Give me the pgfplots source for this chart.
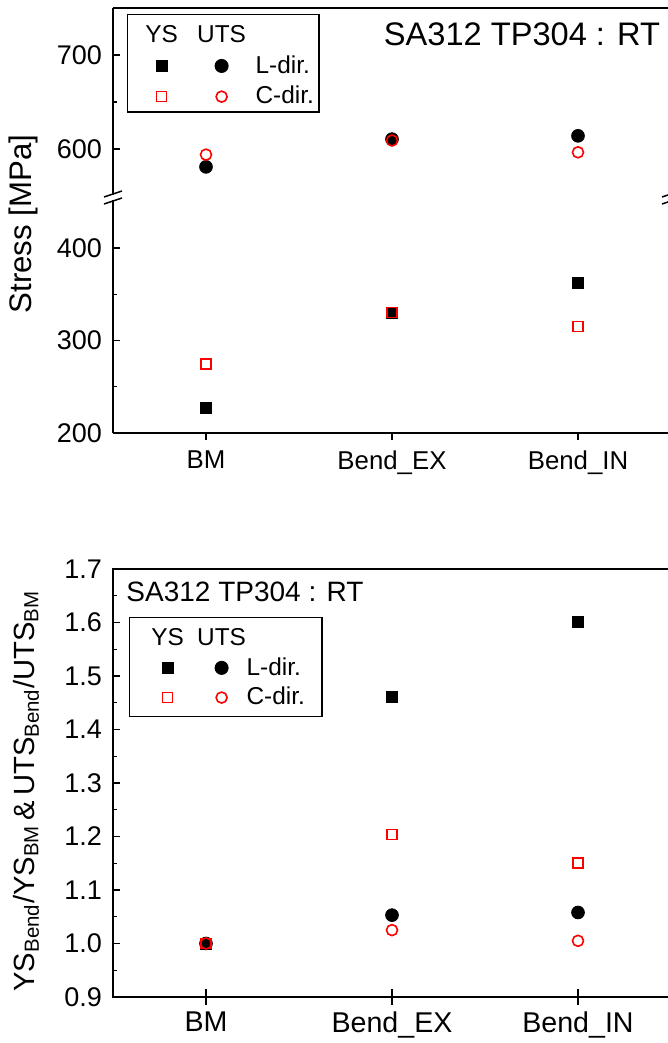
\documentclass[border=0pt]{standalone}
\usepackage{fontspec}
\setmainfont{Liberation Sans}
\usepackage{pgfplots}
\pgfplotsset{compat=1.18}

\pgfplotsset{
  limg/.style n args={4}{legend image code/.code={%
     \draw[##1] plot coordinates {(0pt,0pt)};
     \path[draw=none,fill=none] (#1,#3) rectangle (#2,#4);}},
  himg/.style n args={5}{legend image code/.code={%
     \node[overlay,inner sep=0pt,anchor=center,draw=none,fill=none,text=black,font=\fontsize{12.2pt}{14pt}\selectfont] at (0pt,0pt) {#5};
     \path[draw=none,fill=none] (#1,#3) rectangle (#2,#4);}},
  ysl/.style={only marks, mark=square*, mark size=2.75pt, black},
  ysc/.style={only marks, mark=square, mark size=2.5pt, red, line width=0.8pt},
  utsl/.style={only marks, mark=*, mark size=3.2pt, black},
  utsc/.style={only marks, mark=o, mark size=2.75pt, red, line width=0.8pt},
  base/.style={scale only axis, width=279pt, xmin=0.5, xmax=3.5,
     axis line style={line width=0.75pt},
     tick style={line width=0.6pt, black},
     major tick length=3.5pt, minor tick length=2pt,
     tick align=inside,
     /pgf/number format/assume math mode=true,
     yticklabel style={font=\fontsize{13.5pt}{16pt}\selectfont},
     yticklabel shift=2pt},
}

\begin{document}
\begin{tikzpicture}
% ---------- upper segment of top panel ----------
\begin{axis}[base, name=up, at={(0,0)}, anchor=north west, height=94pt,
  ymin=550, ymax=750, ytick={600,700}, minor ytick={650},
  hide x axis, axis y line*=left, clip=false,
  legend columns=2, legend cell align=left,
  legend style={at={(0.0251,0.968)}, anchor=north west, draw=black, line width=0.6pt,
     font=\fontsize{12.2pt}{14pt}\selectfont, inner xsep=0.5pt, inner ysep=0.5pt,
     row sep=1pt, nodes={inner sep=2pt, text depth=0.15em},
     /tikz/column 2/.style={column sep=14pt},
     /tikz/column 3/.style={column sep=9pt}}]
\addlegendimage{himg={-16.5pt}{6pt}{-7pt}{10pt}{YS}}\addlegendentry{\mbox{}}
\addlegendimage{himg={-6pt}{6pt}{-7pt}{10pt}{UTS}}\addlegendentry{\mbox{}}
\addlegendimage{ysl, limg={-16.5pt}{6pt}{-6pt}{6pt}}\addlegendentry{\mbox{}}
\addlegendimage{utsl, limg={-6pt}{6pt}{-6pt}{6pt}}\addlegendentry{L-dir.}
\addlegendimage{ysc, limg={-16.5pt}{6pt}{-6pt}{6pt}}\addlegendentry{\mbox{}}
\addlegendimage{utsc, limg={-6pt}{6pt}{-6pt}{6pt}}\addlegendentry{C-dir.}
\addplot[utsl, forget plot] coordinates {(1,581) (2,610.5) (3,614)};
\addplot[utsc, forget plot] coordinates {(1,594) (2,609) (3,596.5)};
\draw[line width=0.75pt] (rel axis cs:0,1) -- (rel axis cs:1,1) -- (rel axis cs:1,0);
\end{axis}
% ---------- lower segment of top panel ----------
\begin{axis}[base, name=low, at={(0,-94.5pt)}, anchor=north west, height=118pt,
  ymin=200, ymax=455, ytick={200,300,400}, minor ytick={250,350},
  axis x line*=bottom, axis y line*=left, xtick=\empty, clip=false,
  extra x ticks={1,2,3}, extra x tick labels={BM,Bend\_EX,Bend\_IN},
  extra x tick style={tick align=outside,
     xticklabel style={font=\fontsize{12.9pt}{15pt}\selectfont, yshift=-2pt}}]
\addplot[ysl] coordinates {(1,227) (2,330) (3,362)};
\addplot[ysc] coordinates {(1,274.5) (2,330) (3,315)};
\draw[line width=0.75pt] (rel axis cs:1,0) -- (rel axis cs:1,1);
\end{axis}
% ---------- bottom panel ----------
\begin{axis}[base, name=bot, at={(0,-280.5pt)}, anchor=north west, height=214pt,
  tick pos=left,
  ymin=0.9, ymax=1.7, ytick={0.9,1.0,1.1,1.2,1.3,1.4,1.5,1.6,1.7},
  minor y tick num=1,
  yticklabel style={/pgf/number format/.cd, fixed, fixed zerofill, precision=1},
  xtick=\empty,
  extra x ticks={1,2,3}, extra x tick labels={BM,Bend\_EX,Bend\_IN},
  extra x tick style={tick align=center, major tick length=8pt,
     xticklabel style={font=\fontsize{14.3pt}{17pt}\selectfont}},
  legend columns=2, legend cell align=left,
  legend style={at={(0.0287,0.888)}, anchor=north west, draw=black, line width=0.6pt,
     font=\fontsize{12.2pt}{14pt}\selectfont, inner xsep=0.5pt, inner ysep=0.5pt,
     row sep=0.5pt, nodes={inner sep=2pt, text depth=0.15em},
     /tikz/column 2/.style={column sep=11pt},
     /tikz/column 3/.style={column sep=4.5pt}}]
\addlegendimage{himg={-18.5pt}{6pt}{-7pt}{10pt}{YS}}\addlegendentry{\mbox{}}
\addlegendimage{himg={-6pt}{6pt}{-7pt}{10pt}{UTS}}\addlegendentry{\mbox{}}
\addlegendimage{ysl, limg={-18.5pt}{6pt}{-6pt}{6pt}}\addlegendentry{\mbox{}}
\addlegendimage{utsl, limg={-6pt}{6pt}{-6pt}{6pt}}\addlegendentry{L-dir.\hspace*{6pt}}
\addlegendimage{ysc, limg={-18.5pt}{6pt}{-9pt}{6pt}}\addlegendentry{\mbox{}}
\addlegendimage{utsc, limg={-6pt}{6pt}{-9pt}{6pt}}\addlegendentry{C-dir.\hspace*{6pt}}
\addplot[ysl, forget plot] coordinates {(1,1.0) (2,1.461) (3,1.601)};
\addplot[utsl, forget plot] coordinates {(1,1.0) (2,1.053) (3,1.058)};
\addplot[ysc, forget plot] coordinates {(1,1.0) (2,1.204) (3,1.150)};
\addplot[utsc, forget plot] coordinates {(1,1.0) (2,1.025) (3,1.005)};
\end{axis}
% ---------- axis breaks ----------
\foreach \xx in {0pt,279pt}{
  \fill[white] ([xshift=-1pt]\xx,-93.6pt) rectangle ([xshift=1pt]\xx,-96pt);
  \draw[line width=0.75pt] ([xshift=-4.5pt]\xx,-94.5pt) -- ([xshift=4.5pt]\xx,-91.5pt);
  \draw[line width=0.75pt] ([xshift=-4.5pt]\xx,-98pt) -- ([xshift=4.5pt]\xx,-95pt);
}
% ---------- titles and labels ----------
\node[font=\fontsize{16.3pt}{19pt}\selectfont] at (204.5pt,-13pt) {SA312 TP304 : RT};
\node[font=\fontsize{14pt}{17pt}\selectfont] at (66pt,-292pt) {SA312 TP304 : RT};
\node[rotate=90, font=\fontsize{15.6pt}{18pt}\selectfont] at (-45pt,-108pt) {Stress [MPa]};
\node[rotate=90, font=\fontsize{14.6pt}{17pt}\selectfont] at (-43.5pt,-391.5pt)
  {YS\textsubscript{Bend}/YS\textsubscript{BM}\,\&\,UTS\textsubscript{Bend}/UTS\textsubscript{BM}};
\pgfresetboundingbox
\path[use as bounding box] (-56.5pt,4pt) rectangle (277.5pt,-517.5pt);
\end{tikzpicture}
\end{document}
